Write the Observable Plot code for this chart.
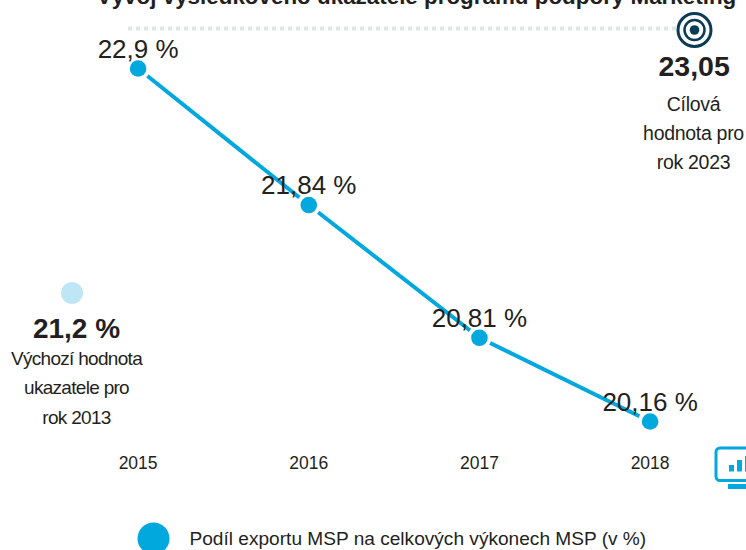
<!DOCTYPE html>
<html><head><meta charset="utf-8">
<script src="https://cdn.jsdelivr.net/npm/d3@7"></script>
<script src="https://cdn.jsdelivr.net/npm/@observablehq/plot@0.6"></script>
<style>html,body{margin:0;padding:0;background:#fff;overflow:hidden}svg{display:block}
.tight{letter-spacing:-0.7px}.semi{letter-spacing:-0.3px}</style>
</head><body><div id="chart"></div><script>
const years = [2015, 2016, 2017, 2018];
const values = [22.9, 21.84, 20.81, 20.16];
const valueLabels = ["22,9 %", "21,84 %", "20,81 %", "20,16 %"];
const titleText = "Vývoj výsledkového ukazatele programu podpory Marketing";
const legendText = "Podíl exportu MSP na celkových výkonech MSP (v %)";
const targetValue = 23.05, targetLabel = "23,05", targetNote = "Cílová\nhodnota pro\nrok 2023";
const baseValue = 21.2, baseLabel = "21,2 %", baseNote = "Výchozí hodnota\nukazatele pro\nrok 2013";

const BLUE = "#00a8de", INK = "#231f20", NAVY = "#0b3c55";
const data = years.map((year, i) => ({year, value: values[i], label: valueLabels[i]}));
const xPx = d3.scaleLinear([137.6, 649.6], [2015, 2018]);
const yPx = d3.scaleLinear([421, 68], [20.16, 22.9]);
const at = (px, py) => ({x: xPx(px), y: yPx(py)});
const one = p => [p];
const rect = (l, r, t, b) => ({x1: xPx(l), x2: xPx(r), y1: yPx(b), y2: yPx(t)});
const xy = {x: "x", y: "y"};
const sans = "'Liberation Sans', Arial, sans-serif";

const chart = Plot.plot({
  width: 746, height: 550,
  marginTop: 0, marginLeft: 0, marginRight: 0, marginBottom: 94,
  style: {fontFamily: sans, background: "#fff", color: INK},
  x: {domain: [2015, 2018], range: [137.6, 649.6]},
  y: {domain: [20.16, 22.9], range: [421, 68]},
  marks: [
    Plot.axisX({ticks: years, tickFormat: "d", tickSize: 0, tickPadding: 0, label: null, fontSize: 17.5, fill: INK, anchor: "bottom"}),
    Plot.axisY({ticks: [], label: null, tickSize: 0}),
    Plot.text(one(at(416, -4)), {...xy, text: () => titleText, fontSize: 22.4, fontWeight: 700, fill: INK}),
    Plot.ruleY([targetValue], {x1: xPx(128), x2: xPx(680), dy: -20.7, stroke: "#e1e5e8", strokeWidth: 4, strokeDasharray: "4 4"}),
    Plot.line(data, {x: "year", y: "value", stroke: BLUE, strokeWidth: 4, curve: "linear"}),
    Plot.dot(data, {x: "year", y: "value", r: 12, fill: "#fff"}),
    Plot.dot(data, {x: "year", y: "value", r: 8.3, fill: BLUE}),
    Plot.text(data, {x: "year", y: "value", text: "label", dy: -19, fontSize: 26, fill: INK}),
    // target
    Plot.dot(one(at(694, 29.5)), {...xy, r: 16.5, stroke: NAVY, strokeWidth: 3, fill: "#fff"}),
    Plot.dot(one(at(694, 29.5)), {...xy, r: 10, stroke: NAVY, strokeWidth: 2.5, fill: "#fff"}),
    Plot.dot(one(at(694, 29.5)), {...xy, r: 4.8, fill: NAVY}),
    Plot.text(one(at(693.6, 66)), {...xy, text: () => targetLabel, fontSize: 28.5, fontWeight: 700, fill: INK}),
    Plot.text(one(at(693, 130)), {...xy, text: () => targetNote, fontSize: 19.5, lineHeight: 1.5, fill: INK, className: "semi"}),
    // baseline
    Plot.dot(one(at(71.5, 292.5)), {...xy, r: 11, fill: "#bfe6f5"}),
    Plot.text(one(at(76, 329)), {...xy, text: () => baseLabel, fontSize: 28, fontWeight: 700, fill: INK}),
    Plot.text(one(at(76, 384.5)), {...xy, text: () => baseNote, fontSize: 19, lineHeight: 1.55, fill: INK, className: "tight"}),
    // monitor icon
    Plot.rect(one(rect(716, 760, 448, 480.5)), {x1: "x1", x2: "x2", y1: "y1", y2: "y2", rx: 4, stroke: BLUE, strokeWidth: 3, fill: "none"}),
    Plot.rect(one(rect(728, 760, 484, 489)), {x1: "x1", x2: "x2", y1: "y1", y2: "y2", fill: BLUE}),
    Plot.rect([rect(729, 734, 465, 471.5), rect(737, 742, 460, 471.5), rect(745, 750, 456, 471.5)], {x1: "x1", x2: "x2", y1: "y1", y2: "y2", fill: BLUE}),
    // legend
    Plot.dot(one(at(153, 538)), {...xy, r: 16, fill: BLUE}),
    Plot.text(one(at(189, 538)), {...xy, text: () => legendText, textAnchor: "start", fontSize: 19.1, fill: INK})
  ]
});
document.getElementById("chart").append(chart);
</script></body></html>
